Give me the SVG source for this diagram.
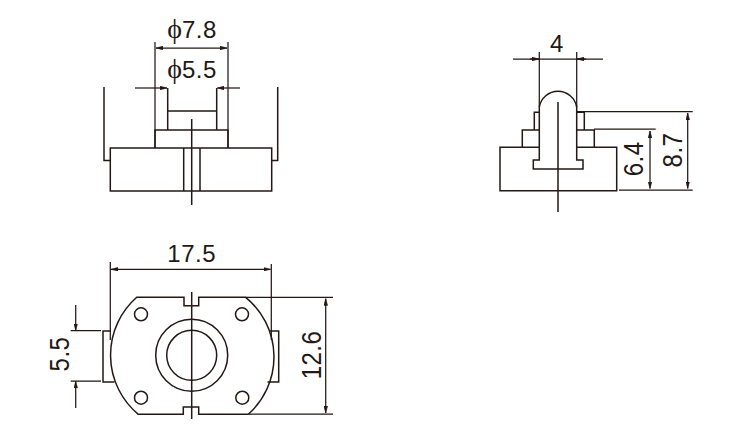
<svg xmlns="http://www.w3.org/2000/svg" width="730" height="424" viewBox="0 0 730 424">
<style>
.l{fill:none;stroke:#231815;stroke-width:1.5}
.d{fill:none;stroke:#231815;stroke-width:1.25}
.t{font-family:"Liberation Sans",Arial,sans-serif;font-size:24px;letter-spacing:.5px;fill:#231815;text-anchor:middle}
.p{font-family:"Liberation Serif","DejaVu Serif",serif;font-size:28px;letter-spacing:0}
</style>
<defs>
<marker id="a" viewBox="0 0 7 4" refX="7" refY="2" markerWidth="7" markerHeight="4" markerUnits="userSpaceOnUse" orient="auto-start-reverse"><path d="M0 0L7 2L0 4Z" fill="#231815" stroke="#231815" stroke-width=".4"/></marker>
</defs>
<rect width="730" height="424" fill="#fff"/>
<g id="front-view">
<path class="l" d="M110.3 148H271.7V191H110.3Z"/>
<path class="l" d="M104 87V160.5H110.3M277.7 87V160.5H271.7"/>
<path class="l" d="M155 148V130H228V148M167.7 130V88M216.7 130V88M167.7 111H216.7"/>
<path class="l" d="M183.7 148V191M200 148V191M191.7 119V205"/>
</g>
<g id="side-view">
<path class="l" d="M539.3 107A19 19 0 0 1 576.7 107V160H583V169H533.3V160H539.3Z"/>
<path class="l" d="M539.3 147.3H500V190.7H616.7V147.3H576.7"/>
<path class="l" d="M522.3 147.3V130H539.3M534.3 130V112.3H539.3M576.7 112.3H584.3V130H576.7M576.7 130H594.3V147.3"/>
<path class="l" d="M558 102V212"/>
</g>
<g id="bottom-view">
<path class="l" d="M136.7 297.3H184V305.7H198.7V297.3H245.7A77 77 0 0 1 248.3 414.3H198.7V407H183.3V414.3H138.3A77 77 0 0 1 136.7 297.3Z"/>
<path class="l" d="M111 331H103V382H114.5M270 331H278.7V382H267.5"/>
<circle class="l" cx="191.7" cy="355.3" r="36"/>
<circle class="l" cx="191.7" cy="355.3" r="25"/>
<circle class="l" cx="141" cy="314.3" r="6.5"/>
<circle class="l" cx="242" cy="314.3" r="6.5"/>
<circle class="l" cx="141" cy="397.7" r="6.5"/>
<circle class="l" cx="242.3" cy="397.7" r="6.5"/>
<path class="l" d="M191.7 292V419"/>
</g>
<g id="connectors">
<path class="d" d="M155 42V148M228 42V148"/>
<path class="d" d="M156 48H227" marker-start="url(#a)" marker-end="url(#a)"/>
<path class="d" d="M135 88H167" marker-end="url(#a)"/>
<path class="d" d="M240 88H217.4" marker-end="url(#a)"/>
<path class="d" d="M539.3 52V107M576.7 52V107"/>
<path class="d" d="M513 59H603"/>
<path class="d" d="M530 59H539" marker-end="url(#a)"/>
<path class="d" d="M586 59H577" marker-end="url(#a)"/>
<path class="d" d="M577 111.7H692.7M594 129H655.7M619 190H692.7"/>
<path class="d" d="M650 131V188.5" marker-start="url(#a)" marker-end="url(#a)"/>
<path class="d" d="M687.7 113V188.5" marker-start="url(#a)" marker-end="url(#a)"/>
<path class="d" d="M110.3 262V340M271.3 264V340"/>
<path class="d" d="M111 269.3H270.5" marker-start="url(#a)" marker-end="url(#a)"/>
<path class="d" d="M245.7 297.3H333M248.3 414H333"/>
<path class="d" d="M325.7 298.5V413" marker-start="url(#a)" marker-end="url(#a)"/>
<path class="d" d="M70.7 330.7H101M70.7 381H101"/>
<path class="d" d="M75.7 305V330.5" marker-end="url(#a)"/>
<path class="d" d="M75.7 408V381.2" marker-end="url(#a)"/>
</g>
<g id="labels">
<text class="t" x="192" y="38.3"><tspan class="p">ϕ</tspan>7.8</text>
<text class="t" x="192" y="78"><tspan class="p">ϕ</tspan>5.5</text>
<text class="t" x="557" y="51.7">4</text>
<text class="t" x="191.7" y="261.7">17.5</text>
<text class="t" transform="translate(643 158.8) rotate(-90) scale(1 1.12)">6.4</text>
<text class="t" transform="translate(681.7 150) rotate(-90) scale(1 1.12)">8.7</text>
<text class="t" transform="translate(321 355) rotate(-90) scale(1 1.12)">12.6</text>
<text class="t" transform="translate(69.3 354) rotate(-90) scale(1 1.12)">5.5</text>
</g>
</svg>
